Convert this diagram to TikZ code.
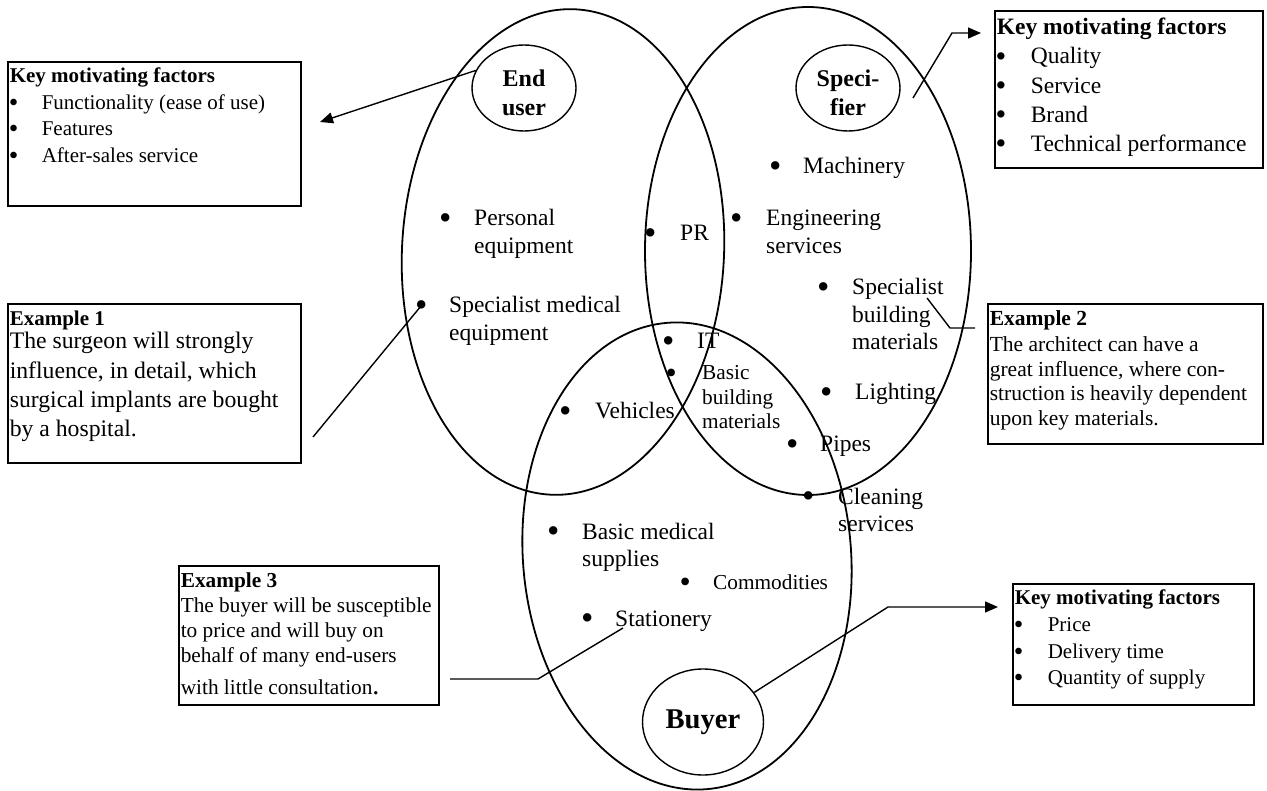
\documentclass[tikz,border=0pt]{standalone}
\usepackage{fontspec}
\usepackage{graphicx}
\setmainfont{Liberation Serif}
\usetikzlibrary{shapes.geometric,arrows.meta}
% a heavier bullet, kept on the x-height
\newcommand{\bdot}{\hspace{-0.09em}\raisebox{-0.17em}{\scalebox{1.5}{\textbullet}}}
% the slightly lighter bullet used in the framed lists
\newcommand{\sdot}{\hspace{-0.05em}\raisebox{-0.1em}{\scalebox{1.3}{\textbullet}}}
% bulleted entry inside the circles: #1 = distance from bullet to text
\newcommand{\bul}[2]{\begin{tabular}[t]{@{}p{#1}@{}l@{}}\bdot&#2\end{tabular}}
% bulleted line inside a framed box
\newcommand{\bitem}[2]{\par\makebox[#1][l]{\sdot}\mbox{#2}}
\begin{document}
\begin{tikzpicture}[x=1pt,y=-1pt,
  ring/.style={line width=1.8pt},
  oval/.style={draw, ellipse, line width=1.4pt, inner sep=0pt, align=center},
  kbox/.style={draw, line width=1.6pt, anchor=north west, inner sep=2pt},
  itm/.style={anchor=base west, inner sep=0pt, font=\fontsize{23.5}{27.5}\selectfont},
  itms/.style={anchor=base west, inner sep=0pt, font=\fontsize{21.3}{24.5}\selectfont},
  lead/.style={line width=1.4pt, line join=miter},
  arr/.style={lead, -{Triangle[length=13pt,width=11pt]}}]

\fill[white] (0,0) rectangle (1267,791);
\useasboundingbox (0,0) rectangle (1267,791);

% the three overlapping groups
\draw[ring, rotate around={-3:(563,252)}] (563,252) ellipse [x radius=161, y radius=243];
\draw[ring] (808,251) ellipse [x radius=163, y radius=244];
\draw[ring, rotate around={5:(687,556)}] (687,556) ellipse [x radius=164, y radius=234];

% group labels
\node[oval, minimum width=104, minimum height=86, font=\fontsize{24}{29}\selectfont\bfseries]
  (eu) at (524,88) {\rule{0pt}{26pt}End\\user};
\node[oval, minimum width=104, minimum height=86, font=\fontsize{24}{29}\selectfont\bfseries]
  (sp) at (848,88) {\rule{0pt}{26pt}Speci-\\fier};
\node[oval, minimum width=121, minimum height=106, font=\fontsize{28.6}{30}\selectfont\bfseries]
  (bu) at (703,722) {Buyer};

% entries
\node[itm] (pe) at (441,226) {\bul{33pt}{Personal\\&equipment}};
\node[itm] (pr) at (646,241) {\bul{34pt}{PR}};
\node[itm] (mach) at (771,174) {\bul{32pt}{Machinery}};
\node[itm] (eng) at (732,226) {\bul{34pt}{Engineering\\&services}};
\node[itm] (spb) at (819,295) {\bul{33pt}{Specialist\\&building\\&materials}};
\node[itm] (light) at (822,400) {\bul{33pt}{Lighting}};
\node[itm] (smeq) at (417,313) {\bul{32pt}{Specialist medical\\&equipment}};
\node[itm] (it) at (664,349) {\bul{33pt}{IT}};
\node[itms] (bbm) at (667.3,380) {\bul{34.7pt}{Basic\\&building\\&materials}};
\node[itm] (veh) at (561,419) {\bul{34pt}{Vehicles}};
\node[itm] (pipes) at (788,452) {\bul{32pt}{Pipes}};
\node[itm] (clean) at (804,504) {\bul{34pt}{Cleaning\\&services}};
\node[itm] (bms) at (549,539) {\bul{33pt}{Basic medical\\&supplies}};
\node[itms] (comm) at (681.3,589) {\bul{31.7pt}{Commodities}};
\node[itm] (stat) at (583,626) {\bul{32pt}{Stationery}};

% motivating factor boxes
\node[kbox] (kmfEU) at (7,61) {\parbox[t][140pt][t]{289pt}{\fontsize{21}{26.5}\selectfont
  \rule{0pt}{19pt}\textbf{Key motivating factors}%
  \bitem{32pt}{Functionality (ease of use)}%
  \bitem{32pt}{Features}%
  \bitem{32pt}{After-sales service}}};
\node[kbox] (kmfSp) at (994,10) {\parbox[t][153pt][t]{264pt}{\fontsize{23.5}{29.2}\selectfont
  \rule{0pt}{22pt}\textbf{Key motivating factors}%
  \bitem{34pt}{Quality}%
  \bitem{34pt}{Service}%
  \bitem{34pt}{Brand}%
  \bitem{34pt}{Technical performance}}};
\node[kbox] (kmfBu) at (1012,583) {\parbox[t][117pt][t]{237pt}{\fontsize{21}{26.6}\selectfont
  \rule{0pt}{19pt}\textbf{Key motivating factors}%
  \bitem{33pt}{Price}%
  \bitem{33pt}{Delivery time}%
  \bitem{33pt}{Quantity of supply}}};

% example boxes
\node[kbox] (ex1) at (7,303) {\parbox[t][155pt][t]{289pt}{%
  {\fontsize{21}{24}\selectfont\bfseries\rule{0pt}{20pt}Example 1\par}
  \vspace{-6.3pt}
  \fontsize{23.7}{29.3}\selectfont
  \mbox{The surgeon will strongly}\\
  \mbox{influence, in detail, which}\\
  \mbox{surgical implants are bought}\\
  \mbox{by a hospital.}}};
\node[kbox] (ex2) at (987,303) {\parbox[t][136pt][t]{271pt}{\fontsize{21.5}{24.6}\selectfont
  {\bfseries\rule{0pt}{20pt}Example 2\par}
  \vspace{1.4pt}
  \mbox{The architect can have a}\\
  \mbox{great influence, where con-}\\
  \mbox{struction is heavily dependent}\\
  \mbox{upon key materials.}}};
\node[kbox] (ex3) at (178,565) {\parbox[t][135pt][t]{256pt}{\fontsize{21.3}{24.8}\selectfont
  {\bfseries\rule{0pt}{20pt}Example 3\par}
  \mbox{The buyer will be susceptible}\\
  \mbox{to price and will buy on}\\
  \mbox{behalf of many end-users}\\[7pt]
  \mbox{with little consultation{\fontsize{28}{28}\selectfont.}}}};

% free ends of the leader lines
\coordinate (euTip) at (320,122);
\coordinate (spStart) at (913,98);
\coordinate (spBend) at (952,33);
\coordinate (spTip) at (981,33);
\coordinate (ex1Start) at (313,437);
\coordinate (ex2Bend) at (950,328);
\coordinate (ex2End) at (975,328);
\coordinate (ex3Start) at (450,679);
\coordinate (ex3Bend) at (538,679);
\coordinate (buBend) at (888,607);
\coordinate (buTip) at (998,607);

% leader lines and arrows
\draw[arr] (eu.160) -- (euTip);
\draw[arr] (spStart) -- (spBend) -- (spTip);
\draw[arr] (bu.30) -- (buBend) -- (buTip);
\draw[lead] (ex1Start) -- ([shift={(4,-7)}]smeq.base west);
\draw[lead] ([shift={(108,3)}]spb.base west) -- (ex2Bend) -- (ex2End);
\draw[lead] (ex3Start) -- (ex3Bend) -- ([shift={(40,2)}]stat.base west);
\end{tikzpicture}
\end{document}
